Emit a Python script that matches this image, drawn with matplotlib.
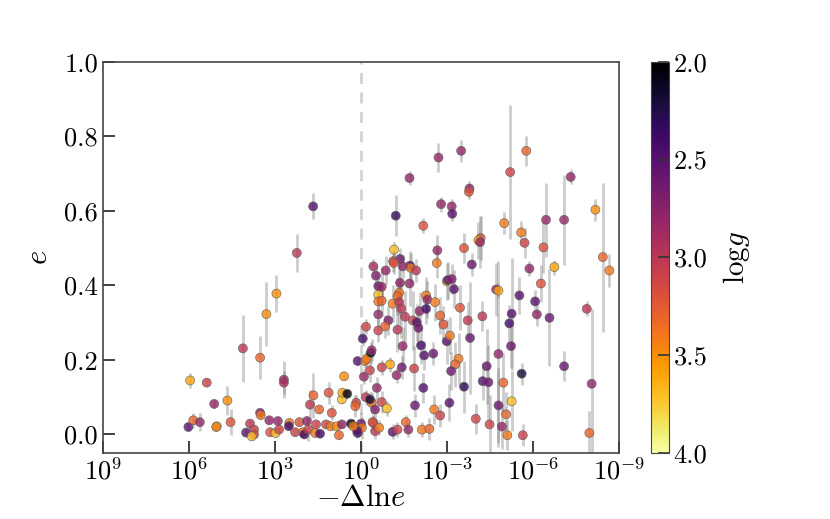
import numpy as np
import matplotlib
matplotlib.use("Agg")
from matplotlib import pyplot as plt

plt.rcParams['font.family'] = 'serif'
plt.rcParams['font.serif'] = ['cmr10', 'DejaVu Serif']
plt.rcParams['mathtext.fontset'] = 'cm'
plt.rcParams['axes.formatter.use_mathtext'] = True

# log10(-dlnE), eccentricity, error on e, log g
log_dlne = [5.96, 5.38, 5.12, 4.66, 4.55, 5.03, 5.05, 6.02, 5.85, 5.62,
            4.12, 3.52, 3.30, 2.95, 2.69, 2.69, 4.01, 3.87, 3.73, 3.73,
            3.81, 3.52, 3.50, 3.20, 3.17, 2.98, 2.90, 2.86, 2.50, 2.52,
            2.30, 2.15, 2.03, 1.98, 1.89, 1.84, 1.78, 1.66, 1.57, 1.60,
            1.46, 1.43, 1.22, 1.13, 1.02, 1.06, 0.85, 0.77, 0.67, 0.59,
            0.67, 0.65, 0.48, 0.35, 0.17, 0.20, 0.12, 0.12, -0.06, -0.10,
            -0.17, -0.16, -0.14, -0.19, -0.31, -0.34, -0.37, -0.37, -0.31, -0.43,
            -0.49, 0.00, -0.03, -0.49, -0.55, -0.52, -0.60, -0.60, -0.60, -0.60,
            -0.60,
            -1.15, -1.36, -1.12, -1.14, -1.71, -1.73, -0.43, -1.45, -0.86, -1.92,
            -2.66, -2.64, -0.72, -1.36, -1.69, -1.33, -1.27, -0.72, -1.10, -1.33,
            -0.95, -0.84, -1.40, -1.53, -1.80, -1.94, -2.00, -2.27, -2.31, -2.58,
            -2.04, -2.27, -2.76, -2.87, -2.99, -2.99, -1.27, -1.45, -2.09, -2.20,
            -2.52, -1.01, -0.72, -1.42, -1.24, -1.85, -2.17, -0.72, -0.90, -1.88,
            -2.55, -2.76, -0.40, -0.63, -1.10, -1.27, -1.56, -1.65, -2.12, -2.38,
            0.13, 0.27,
            -5.58, -5.70, -4.17, -4.09, -4.15, -3.59, -3.86, -5.87, -3.02, -3.16,
            -3.24, -4.71, -4.79, -5.52, -6.07, -3.45, -3.72, -4.23, -5.25, -5.17,
            -6.13, -3.10, -3.80, -5.23, -4.79, -3.40, -3.28, -3.14, -4.38, -4.24,
            -4.44, -3.59, -4.96, -5.60, -5.25, -3.08, -4.79, -5.06, -4.00, -4.48,
            -4.91, -5.10, -5.64,
            -7.31, -8.17, -6.45, -7.08, -6.36, -6.74, -8.43, -8.66, -6.27, -6.57,
            -7.87, -7.08, -8.04, -7.96,
            -1.69, -2.70, -3.49, -3.78, -3.76, -5.20, -5.76, -2.79, -3.16, -3.18,
            -1.21, -2.17, -4.99, 1.67, 2.24]

ecc = [0.145, 0.139, 0.082, 0.091, 0.033, 0.022, 0.020, 0.020, 0.038, 0.033,
       0.231, 0.206, 0.323, 0.378, 0.147, 0.139, 0.005, 0.029, 0.013, 0.000,
       -0.005, 0.058, 0.052, 0.038, 0.006, 0.004, 0.036, 0.013, 0.031, 0.022,
       0.006, 0.033, 0.006, 0.000, 0.036, 0.013, 0.080, 0.105, 0.027, 0.004,
       0.067, 0.002, 0.027, 0.112, 0.058, 0.022, 0.022, -0.002, 0.027, 0.156,
       0.094, 0.112, 0.109, 0.029, 0.085, 0.076, 0.197, 0.004, 0.257, 0.155,
       0.289, 0.100, 0.197, 0.203, 0.172, 0.219, 0.226, 0.085, 0.094, 0.031,
       0.009, 0.029, 0.018, 0.067, 0.125, 0.426, 0.398, 0.375, 0.357, 0.322,
       0.279,
       0.496, 0.471, 0.465, 0.460, 0.453, 0.447, 0.451, 0.451, 0.440, 0.440,
       0.494, 0.460, 0.396, 0.407, 0.405, 0.380, 0.371, 0.359, 0.351, 0.355,
       0.306, 0.290, 0.338, 0.316, 0.306, 0.301, 0.286, 0.373, 0.362, 0.355,
       0.331, 0.337, 0.319, 0.295, 0.411, 0.250, 0.281, 0.237, 0.239, 0.212,
       0.217, 0.188, 0.180, 0.180, 0.159, 0.177, 0.125, 0.087, 0.070, 0.078,
       0.067, 0.051, 0.033, 0.018, 0.007, 0.013, 0.033, 0.013, 0.013, 0.015,
       0.010, 0.022,
       0.542, 0.514, 0.527, 0.521, 0.516, 0.500, 0.456, 0.445, 0.414, 0.417,
       0.390, 0.389, 0.386, 0.373, 0.357, 0.340, 0.306, 0.317, 0.324, 0.298,
       0.322, 0.265, 0.259, 0.237, 0.216, 0.203, 0.188, 0.170, 0.183, 0.143,
       0.140, 0.128, 0.139, 0.163, 0.089, 0.085, 0.078, 0.054, 0.042, 0.027,
       0.021, -0.002, -0.002,
       0.691, 0.603, 0.576, 0.576, 0.502, 0.449, 0.476, 0.440, 0.405, 0.313,
       0.337, 0.183, 0.136, 0.004,
       0.688, 0.743, 0.761, 0.660, 0.651, 0.704, 0.761, 0.618, 0.612, 0.592,
       0.587, 0.560, 0.567, 0.612, 0.487]

ecc_err = [0.020, 0.010, 0.010, 0.040, 0.035, 0.010, 0.010, 0.010, 0.020, 0.025,
           0.090, 0.057, 0.085, 0.050, 0.050, 0.030, 0.010, 0.010, 0.010, 0.010,
           0.010, 0.010, 0.010, 0.010, 0.010, 0.010, 0.010, 0.010, 0.010, 0.010,
           0.010, 0.010, 0.010, 0.010, 0.010, 0.030, 0.040, 0.060, 0.010, 0.010,
           0.010, 0.010, 0.010, 0.030, 0.020, 0.010, 0.010, 0.010, 0.010, 0.010,
           0.010, 0.010, 0.010, 0.010, 0.020, 0.030, 0.010, 0.010, 0.020, 0.020,
           0.020, 0.020, 0.020, 0.020, 0.030, 0.030, 0.030, 0.030, 0.020, 0.020,
           0.020, 0.030, 0.030, 0.030, 0.030, 0.030, 0.030, 0.030, 0.030, 0.030,
           0.030,
           0.020, 0.030, 0.030, 0.030, 0.040, 0.040, 0.020, 0.030, 0.040, 0.030,
           0.040, 0.040, 0.050, 0.050, 0.060, 0.060, 0.050, 0.040, 0.050, 0.060,
           0.040, 0.030, 0.080, 0.070, 0.080, 0.050, 0.050, 0.050, 0.050, 0.050,
           0.050, 0.040, 0.050, 0.050, 0.050, 0.060, 0.060, 0.050, 0.050, 0.040,
           0.030, 0.020, 0.020, 0.030, 0.020, 0.060, 0.040, 0.030, 0.020, 0.030,
           0.040, 0.030, 0.020, 0.020, 0.020, 0.020, 0.020, 0.020, 0.020, 0.030,
           0.020, 0.020,
           0.030, 0.040, 0.060, 0.050, 0.070, 0.040, 0.030, 0.020, 0.050, 0.040,
           0.050, 0.070, 0.020, 0.050, 0.030, 0.060, 0.050, 0.040, 0.150, 0.050,
           0.030, 0.050, 0.150, 0.060, 0.250, 0.070, 0.060, 0.050, 0.100, 0.050,
           0.100, 0.070, 0.080, 0.030, 0.080, 0.050, 0.100, 0.060, 0.040, 0.080,
           0.060, 0.040, 0.030,
           0.020, 0.030, 0.100, 0.120, 0.070, 0.020, 0.200, 0.045, 0.050, 0.130,
           0.020, 0.040, 0.200, 0.060,
           0.020, 0.040, 0.030, 0.020, 0.020, 0.180, 0.040, 0.020, 0.020, 0.020,
           0.055, 0.020, 0.030, 0.035, 0.050]

logg = [3.6, 3.1, 2.8, 3.5, 3.2, 3.7, 3.4, 2.5, 3.3, 2.8,
        3.0, 3.3, 3.5, 3.5, 2.8, 2.9, 2.5, 3.0, 3.1, 3.1,
        3.7, 2.7, 3.4, 2.8, 3.2, 3.7, 2.8, 3.1, 3.4, 2.4,
        3.1, 3.2, 3.3, 2.4, 2.8, 3.1, 3.0, 3.3, 3.1, 3.4,
        3.3, 2.4, 3.1, 3.2, 3.2, 3.4, 3.5, 3.3, 2.8, 3.5,
        3.7, 3.6, 2.0, 2.05, 3.1, 3.3, 2.5, 2.4, 2.4, 2.8,
        3.1, 3.0, 3.4, 3.4, 3.1, 2.05, 2.8, 3.4, 2.2, 3.1,
        3.0, 2.6, 3.4, 2.7, 2.8, 2.7, 2.6, 3.7, 3.4, 2.8,
        3.1,
        3.7, 2.6, 3.1, 3.2, 2.5, 3.4, 2.9, 2.8, 2.8, 3.0,
        2.8, 3.4, 2.8, 2.8, 2.8, 3.4, 3.3, 3.3, 3.4, 3.0,
        2.7, 3.3, 3.0, 3.0, 3.1, 2.5, 2.6, 3.4, 2.8, 3.4,
        2.8, 2.4, 3.3, 3.2, 3.7, 2.5, 3.0, 2.8, 2.4, 2.5,
        2.6, 3.6, 3.1, 2.6, 2.8, 3.1, 2.5, 3.1, 3.7, 2.6,
        3.4, 3.1, 3.2, 3.4, 2.5, 3.1, 3.3, 2.8, 3.4, 3.3,
        2.5, 3.4,
        3.4, 3.1, 3.2, 3.6, 2.8, 3.2, 2.6, 2.8, 2.5, 2.7,
        2.5, 2.8, 3.6, 2.5, 2.5, 3.2, 3.0, 3.0, 2.5, 2.4,
        2.8, 3.4, 2.6, 2.6, 2.8, 3.4, 3.3, 2.6, 2.6, 2.5,
        2.6, 2.3, 3.3, 2.2, 3.7, 2.5, 2.6, 3.3, 3.1, 3.1,
        2.8, 3.4, 3.1,
        2.8, 3.5, 2.8, 2.8, 3.2, 3.6, 3.3, 3.4, 3.2, 2.6,
        3.0, 2.6, 2.8, 3.3,
        2.8, 2.8, 2.8, 2.8, 3.2, 3.1, 3.3, 2.8, 2.8, 2.5,
        2.3, 3.2, 3.4, 2.5, 3.0]

dlne = np.power(10.0, log_dlne)

fig = plt.figure(figsize=(8.3, 5.19), dpi=100)
ax = fig.add_axes([0.124, 0.127, 0.622, 0.754])
cax = fig.add_axes([0.784, 0.127, 0.0217, 0.754])

ax.axvline(1.0, color='lightgrey', ls=(0, (4, 3)), lw=2, zorder=0)
ax.errorbar(dlne, ecc, yerr=ecc_err, fmt='none', ecolor='grey', alpha=0.4,
            elinewidth=2, capsize=0, zorder=1)
sc = ax.scatter(dlne, ecc, c=logg, cmap='inferno', vmin=2.0, vmax=4.0, s=42,
                edgecolors='0.35', linewidths=0.5, alpha=0.8, zorder=2)

ax.set_xscale('log')
ax.set_xlim(1e9, 1e-9)
ax.set_ylim(-0.05, 1.0)
ax.set_xticks([1e9, 1e6, 1e3, 1e0, 1e-3, 1e-6, 1e-9])
ax.set_xticklabels(['$10^{9}$', '$10^{6}$', '$10^{3}$', '$10^{0}$',
                    '$10^{-3}$', '$10^{-6}$', '$10^{-9}$'])
ax.xaxis.set_minor_locator(matplotlib.ticker.NullLocator())
ax.set_yticks([0.0, 0.2, 0.4, 0.6, 0.8, 1.0])
ax.set_yticklabels(['0.0', '0.2', '0.4', '0.6', '0.8', '1.0'])
ax.tick_params(direction='in', length=8.5, width=1.3, labelsize=19, color='#333333')
for s in ax.spines.values():
    s.set_color('#444444')
    s.set_linewidth(1.2)
ax.set_xlabel(r'$-\Delta\mathrm{ln}e$', fontsize=22, labelpad=0)
ax.set_ylabel(r'$e$', fontsize=22, labelpad=8)

cb = fig.colorbar(sc, cax=cax)
cb.solids.set_alpha(1.0)
cb.set_ticks([2.0, 2.5, 3.0, 3.5, 4.0])
cb.set_ticklabels(['2.0', '2.5', '3.0', '3.5', '4.0'])
cax.invert_yaxis()
cax.tick_params(direction='in', length=8, width=1.2, labelsize=19, color='#333333')
cb.outline.set_edgecolor('#444444')
cb.set_label(r'$\mathrm{log}g$', fontsize=21, labelpad=10)

fig.savefig('out.png', dpi=100)
